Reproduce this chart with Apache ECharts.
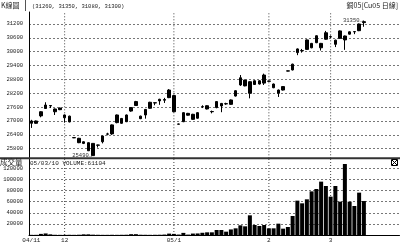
<!DOCTYPE html>
<html><head><meta charset="utf-8">
<script src="https://cdn.jsdelivr.net/npm/echarts@6/dist/echarts.min.js"></script>
<style>html,body{margin:0;padding:0;background:#fff}#c{width:400px;height:244px}</style>
</head><body><div id="c"></div>
<script>
const dates = [
 '2004-11-22','2004-11-23','2004-11-24','2004-11-25','2004-11-26','2004-11-29','2004-11-30',
 '2004-12-01','2004-12-02','2004-12-03','2004-12-06','2004-12-07','2004-12-08','2004-12-09','2004-12-10',
 '2004-12-13','2004-12-14','2004-12-15','2004-12-16','2004-12-17','2004-12-20','2004-12-21','2004-12-22',
 '2004-12-23','2004-12-24','2004-12-27','2004-12-28','2004-12-29','2004-12-30','2004-12-31',
 '2005-01-04','2005-01-05','2005-01-06','2005-01-07','2005-01-10','2005-01-11','2005-01-12','2005-01-13',
 '2005-01-14','2005-01-17','2005-01-18','2005-01-19','2005-01-20','2005-01-21','2005-01-24','2005-01-25',
 '2005-01-26','2005-01-27','2005-01-28','2005-01-31',
 '2005-02-01','2005-02-02','2005-02-03','2005-02-04','2005-02-16','2005-02-17','2005-02-18','2005-02-21',
 '2005-02-22','2005-02-23','2005-02-24','2005-02-25','2005-02-28',
 '2005-03-01','2005-03-02','2005-03-03','2005-03-04','2005-03-07','2005-03-08','2005-03-09','2005-03-10'
];
const opens = [27000,26900,27220,27540,27670,27520,27490,27260,27210,26280,
 26250,26100,26060,26030,25960,26100,26440,26440,26930,27110,
 26970,27430,27670,27210,27260,27550,27790,27870,27900,28010,
 28100,26870,26970,27330,27290,27120,27620,27520,27400,27580,
 27760,27750,27720,28080,28560,28770,28700,28580,28600,28640,
 28730,28600,28340,28340,29170,29210,29960,30050,30100,30360,
 30390,30360,30540,30650,30500,30580,30680,30760,30870,30910,31260];
const closes = [26900,27000,27400,27690,27650,27400,27560,27140,26960,26270,
 26060,26030,25710,25500,25950,26350,26430,26830,27260,26900,
 27260,27580,27840,27100,27500,27810,27780,27940,27930,28340,
 27400,26860,27360,27250,27070,27360,27610,27660,27410,27840,
 27650,27740,27910,28310,28870,28520,28200,28740,28740,28990,
 28720,28440,28200,28490,29160,29460,30120,30040,30510,30170,
 30690,30170,30820,30640,30320,30900,30510,30860,30860,31200,31300];
const lows = [26700,26880,27160,27520,27560,27260,27470,26930,26940,26260,
 26040,26000,25700,25490,25850,26030,26380,26400,26900,26880,
 26950,27400,27650,27080,27100,27530,27680,27700,27780,27990,
 27380,26850,26950,27230,27050,27100,27560,27500,27330,27550,
 27380,27700,27700,28060,28520,28500,27980,28560,28580,28560,
 28700,28420,28040,28320,29150,29190,29850,29960,30080,30150,
 30370,30050,30520,30600,30200,30560,30080,30740,30760,30890,31080];
const highs = [27050,27020,27420,27810,27690,27540,27580,27280,27230,26290,
 26270,26120,26070,26040,25970,26360,26490,26850,27280,27130,
 27280,27600,27870,27230,27520,27830,27800,27960,28000,28380,
 28120,26880,27380,27350,27310,27380,27680,27680,27450,27860,
 27780,27790,27930,28330,28990,28790,28720,28760,28760,29050,
 28740,28620,28360,28510,29180,29480,30140,30120,30530,30380,
 30710,30380,30900,30700,30520,30920,30700,30880,30880,31220,31350];
const volumes = [300,300,2000,2800,1200,400,300,300,400,300,
 500,1200,1200,600,400,300,300,400,300,400,
 500,1500,1500,500,400,300,400,500,800,2500,
 2000,800,3800,700,2600,2800,4000,4800,4800,9000,
 9000,6000,10000,12000,17400,15600,35400,18000,16200,18000,
 12000,12000,20400,11400,14400,34200,61800,57000,64200,78500,
 82800,96000,88200,69000,88200,60000,127700,60000,52200,76200,61104];
const priceTicks = [25800,26400,27000,27600,28200,28800,29400,30000,30600,31200];
const volumeTicks = [20000,40000,60000,80000,100000,120000];
const monthStarts = ['2004-11-22','2004-12-01','2005-01-04','2005-02-01','2005-03-01'];
const monthLabels = ['04/11','12','05/1','2','3'];
const padCount = 7;

const cats = dates.concat(Array.from({length: padCount}, (_, i) => '#' + i));
const candles = dates.map((d, i) => [opens[i], closes[i], lows[i], highs[i]]);
const last = dates.length - 1;
const mono = 'Liberation Mono';
const cjk = 'Noto Sans CJK TC';
const monthIdx = monthStarts.slice(1).map(d => dates.indexOf(d));
const splitStyle = {show: true, lineStyle: {color: '#777', type: [2, 2], width: 1}};
const lastDate = dates[last].slice(2).replace(/-/g, '/');
const plain = v => String(v);

// month separators drawn as thin line series through the axes' own scales
function monthSeries(xi, yi, yMin, yMax) {
  return monthIdx.map(ix => ({
    type: 'line', xAxisIndex: xi, yAxisIndex: yi, silent: true, symbol: 'none',
    lineStyle: {color: '#444', width: 1, type: [1, 2]},
    data: [[ix, yMin], [ix, yMax]], z: 1
  }));
}

const chart = echarts.init(document.getElementById('c'), null, {renderer: 'canvas'});
chart.setOption({
  animation: false,
  backgroundColor: '#fff',
  grid: [
    {left: 29, width: 370.5, top: 12, height: 146.3},
    {left: 29, width: 370.5, top: 158.3, height: 76.7}
  ],
  xAxis: [
    {type: 'category', gridIndex: 0, data: cats, boundaryGap: true,
     axisLine: {show: false}, axisTick: {show: false}, axisLabel: {show: false}, splitLine: {show: false}},
    {type: 'category', gridIndex: 1, data: cats, boundaryGap: true,
     axisLine: {show: true, lineStyle: {color: '#000', width: 1}}, axisTick: {show: false},
     splitLine: {show: false},
     axisLabel: {interval: (i, v) => monthStarts.indexOf(v) >= 0,
       formatter: v => monthLabels[monthStarts.indexOf(v)] || '',
       fontSize: 6, fontFamily: mono, color: '#222', margin: 2}}
  ],
  yAxis: [
    {type: 'value', gridIndex: 0, min: 25384, max: 31719,
     axisLine: {show: true, lineStyle: {color: '#000', width: 1}},
     axisTick: {show: false, customValues: priceTicks},
     axisLabel: {customValues: priceTicks, formatter: plain, fontSize: 5.5, fontFamily: mono, color: '#222', margin: 6},
     splitLine: splitStyle},
    {type: 'value', gridIndex: 1, min: 0, max: 138000,
     axisLine: {show: true, lineStyle: {color: '#000', width: 1}},
     axisTick: {show: false, customValues: volumeTicks},
     axisLabel: {customValues: volumeTicks, formatter: plain, fontSize: 5.5, fontFamily: mono, color: '#222', margin: 6},
     splitLine: splitStyle}
  ],
  series: [
    {type: 'candlestick', xAxisIndex: 0, yAxisIndex: 0, data: candles, barWidth: 3, z: 3,
     itemStyle: {color: '#000', color0: '#000', borderColor: '#000', borderColor0: '#000', borderWidth: 1},
     markPoint: {
       symbol: 'circle', symbolSize: 0.1, silent: true,
       label: {show: true, position: 'left', distance: 1, fontSize: 5.5, fontFamily: mono, color: '#333',
               formatter: p => p.value + '→'},
       data: [{type: 'max', valueDim: 'highest'}, {type: 'min', valueDim: 'lowest'}]
     }},
    {type: 'bar', xAxisIndex: 1, yAxisIndex: 1, data: volumes, barWidth: 4, z: 3,
     itemStyle: {color: '#000'}}
  ].concat(monthSeries(0, 0, 25384, 31719), monthSeries(1, 1, 0, 138000)),
  graphic: [
    {type: 'line', shape: {x1: 0, y1: 158.3, x2: 400, y2: 158.3}, style: {stroke: '#333', lineWidth: 2}, z: 10},
    {type: 'line', shape: {x1: 25.5, y1: 0, x2: 25.5, y2: 11}, style: {stroke: '#555', lineWidth: 1}},
    {type: 'text', left: 1, top: 2, style: {text: 'K線圖', font: '7px "' + cjk + '"', fill: '#222'}},
    {type: 'text', left: 32, top: 4, style: {text: '(' + [opens[last], highs[last], lows[last], closes[last]].join(', ') + ')', font: '5.5px "' + mono + '"', fill: '#222'}},
    {type: 'text', right: 2, top: 2, style: {text: '銅05[Cu05 日線]', font: '7px "' + cjk + '"', fill: '#222'}},
    {type: 'text', left: 0, top: 158, style: {text: '成交量', font: '7.5px "' + cjk + '"', fill: '#222'}, z: 11},
    {type: 'text', left: 30, top: 160, style: {text: lastDate + ' VOLUME:' + volumes[last], font: '6px "' + mono + '"', fill: '#222'}, z: 11},
    {type: 'rect', shape: {x: 391.5, y: 159.5, width: 6, height: 6}, style: {stroke: '#000', fill: '#fff', lineWidth: 1}, z: 11},
    {type: 'line', shape: {x1: 392, y1: 160, x2: 397, y2: 165}, style: {stroke: '#000', lineWidth: 1}, z: 11},
    {type: 'line', shape: {x1: 397, y1: 160, x2: 392, y2: 165}, style: {stroke: '#000', lineWidth: 1}, z: 11}
  ]
});
</script>
</body></html>
